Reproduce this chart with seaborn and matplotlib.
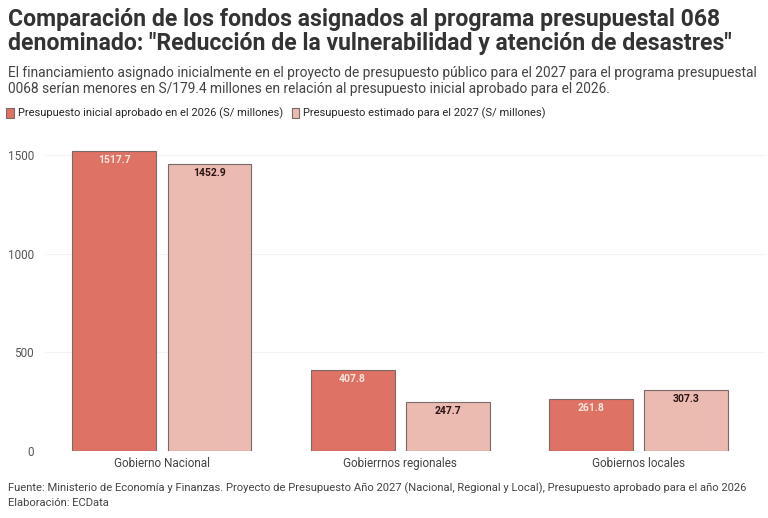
import matplotlib
matplotlib.use("Agg")
import matplotlib.pyplot as plt
import seaborn as sns
import pandas as pd

categorias = ["Gobierno Nacional", "Gobierrnos regionales", "Gobiernos locales"]
serie_2026 = [1517.7, 407.8, 261.8]
serie_2027 = [1452.9, 247.7, 307.3]
nombre_2026 = "Presupuesto inicial aprobado en el 2026 (S/ millones)"
nombre_2027 = "Presupuesto estimado para el 2027 (S/ millones)"

df = pd.DataFrame({
    "categoria": categorias * 2,
    "valor": serie_2026 + serie_2027,
    "serie": [nombre_2026] * 3 + [nombre_2027] * 3,
})

sns.set_style("white")
plt.rcParams["font.family"] = ["Roboto", "DejaVu Sans"]

fig = plt.figure(figsize=(7.68, 5.18), dpi=100)
ax = fig.add_axes([45 / 768, 1 - 451 / 518, 720 / 768, (451 - 140) / 518])

colores = ["#DE7264", "#EBBAB1"]
sns.barplot(data=df, x="categoria", y="valor", hue="serie", palette=colores,
            width=0.8, gap=0.12, edgecolor="#7a6b68", linewidth=0.8,
            saturation=1, ax=ax, errorbar=None)

ax.set_ylim(0, 1575)
ax.set_xlim(-0.49, 2.53)
ax.set_yticks([0, 500, 1000, 1500])
ax.grid(axis="y", color="#f3f3f3", linewidth=0.8)
ax.set_axisbelow(True)
for s in ax.spines.values():
    s.set_visible(False)
ax.tick_params(axis="y", length=0, labelsize=8.5, labelcolor="#555555", pad=8)
ax.tick_params(axis="x", length=0, labelsize=8.5, labelcolor="#444444", pad=4)
ax.set_xlabel("")
ax.set_ylabel("")

colores_texto = ["#fbe6df", "#2b1414"]
for cont, ct in zip(ax.containers, colores_texto):
    ax.bar_label(cont, labels=[f"{v:.1f}" for v in cont.datavalues],
                 padding=-10, color=ct, fontsize=7.5, fontweight="bold")

sns.move_legend(ax, loc="upper left", bbox_to_anchor=(2 / 768, 1 - 103 / 518),
                bbox_transform=fig.transFigure, ncol=2, frameon=False, title=None,
                fontsize=8, handlelength=0.7, handleheight=1.0, handletextpad=0.3,
                columnspacing=0.8, borderaxespad=0)

fig.text(8 / 768, 1 - 8 / 518,
         'Comparación de los fondos asignados al programa presupuestal 068\n'
         'denominado: "Reducción de la vulnerabilidad y atención de desastres"',
         ha="left", va="top", fontsize=16.6, fontweight="bold", color="#333333",
         linespacing=1.05)
fig.text(8 / 768, 1 - 66 / 518,
         "El financiamiento asignado inicialmente en el proyecto de presupuesto público para el 2027 para el programa presupuestal\n"
         "0068 serían menores en S/179.4 millones en relación al presupuesto inicial aprobado para el 2026.",
         ha="left", va="top", fontsize=9.9, color="#444444", linespacing=1.15)
fig.text(8 / 768, 1 - 482 / 518,
         "Fuente: Ministerio de Economía y Finanzas. Proyecto de Presupuesto Año 2027 (Nacional, Regional y Local), Presupuesto aprobado para el año 2026\n"
         "Elaboración: ECData",
         ha="left", va="top", fontsize=8.1, color="#444444", linespacing=1.6)

fig.savefig("out.png", dpi=100, facecolor="white")
